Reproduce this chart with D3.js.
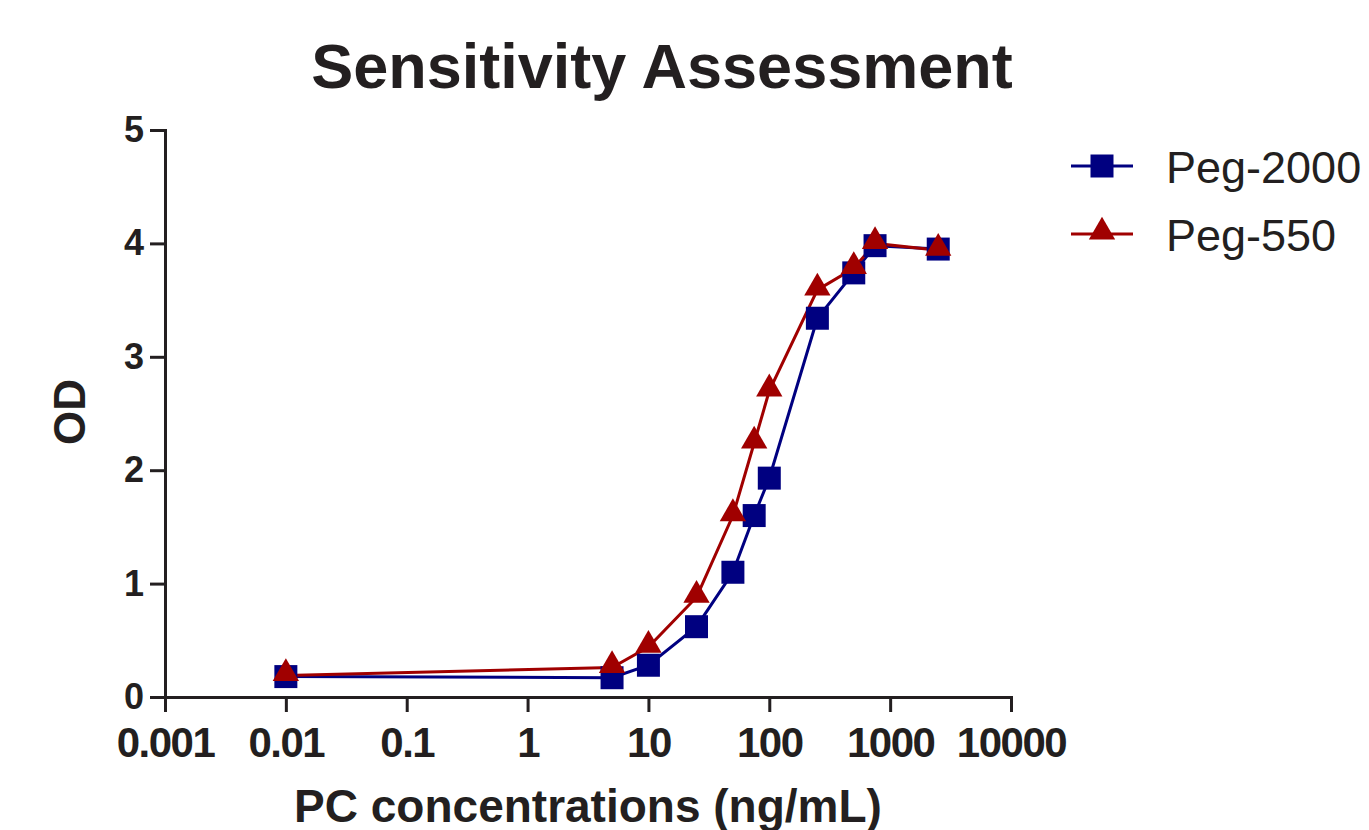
<!DOCTYPE html>
<html><head><meta charset="utf-8">
<script src="https://cdn.jsdelivr.net/npm/d3@7"></script>
<style>body{margin:0;background:#fff}</style>
</head><body><svg id="c" width="1369" height="830"></svg>
<script>
const concentrations = [0.01, 5, 10, 25, 50, 75, 100, 250, 500, 750, 2500];
const peg2000 = [0.18, 0.17, 0.28, 0.62, 1.10, 1.60, 1.93, 3.34, 3.74, 3.98, 3.95];
const peg550  = [0.19, 0.26, 0.44, 0.88, 1.60, 2.24, 2.70, 3.59, 3.78, 4.00, 3.94];
const xTicks = [0.001, 0.01, 0.1, 1, 10, 100, 1000, 10000];
const xTickLabels = ["0.001", "0.01", "0.1", "1", "10", "100", "1000", "10000"];
const yTicks = [0, 1, 2, 3, 4, 5];
const seriesNames = ["Peg-2000", "Peg-550"];
const seriesColors = ["#000080", "#a00000"];

const ink = "#231f20";
const font = "Liberation Sans, Arial, Helvetica, sans-serif";
const svg = d3.select("#c");
const x = d3.scaleLog().domain([0.001, 10000]).range([165, 1011]);
const y = d3.scaleLinear().domain([0, 5]).range([697, 130]);

svg.append("text").attr("x", 662).attr("y", 88).attr("text-anchor", "middle")
  .attr("font-family", font).attr("font-weight", "bold")
  .attr("font-size", 63).attr("fill", ink).text("Sensitivity Assessment");

const xAxis = svg.append("g").attr("transform", "translate(0,697)")
  .call(d3.axisBottom(x).tickValues(xTicks).tickFormat((d, i) => xTickLabels[i]).tickSizeOuter(0).tickSize(15).tickPadding(15));
xAxis.select(".domain").attr("stroke", ink).attr("stroke-width", 3);
xAxis.selectAll(".tick line").attr("stroke", ink).attr("stroke-width", 3);
xAxis.selectAll(".tick text").attr("fill", ink).attr("font-family", font)
  .attr("font-weight", "bold").attr("font-size", 42).attr("letter-spacing", "-1.5px");

const yAxis = svg.append("g").attr("transform", "translate(165,0)")
  .call(d3.axisLeft(y).tickValues(yTicks).tickFormat(d3.format("d")).tickSizeOuter(0).tickSize(15).tickPadding(6));
yAxis.select(".domain").attr("stroke", ink).attr("stroke-width", 3);
yAxis.selectAll(".tick line").attr("stroke", ink).attr("stroke-width", 3);
yAxis.selectAll(".tick text").attr("fill", ink).attr("font-family", font)
  .attr("font-weight", "bold").attr("font-size", 36);

svg.append("text").attr("x", 588).attr("y", 822).attr("text-anchor", "middle")
  .attr("font-family", font).attr("font-weight", "bold")
  .attr("font-size", 46).attr("fill", ink).text("PC concentrations (ng/mL)");

svg.append("text").attr("transform", "translate(85,412) rotate(-90)").attr("text-anchor", "middle")
  .attr("font-family", font).attr("font-weight", "bold")
  .attr("font-size", 44).attr("fill", ink).text("OD");

const data = [peg2000, peg550];
const line = d3.line().x((d, i) => x(concentrations[i])).y(d => y(d));
const sq = d3.symbol().type(d3.symbolSquare).size(23 * 23);
const tri = d3.symbol().type(d3.symbolTriangle).size(300);
const symbols = [sq, tri];

data.forEach((vals, s) => {
  svg.append("path").datum(vals).attr("d", line).attr("fill", "none")
    .attr("stroke", seriesColors[s]).attr("stroke-width", 3);
});
data.forEach((vals, s) => {
  svg.selectAll(null).data(vals).enter().append("path")
    .attr("d", symbols[s])
    .attr("transform", (d, i) => `translate(${x(concentrations[i])},${y(d) + (s === 1 ? -2 : 0)})`)
    .attr("fill", seriesColors[s]);
});

const leg = svg.append("g");
seriesNames.forEach((n, s) => {
  const ly = 166 + s * 68;
  leg.append("line").attr("x1", 1071).attr("x2", 1133).attr("y1", ly).attr("y2", ly)
    .attr("stroke", seriesColors[s]).attr("stroke-width", 3);
  leg.append("path").attr("d", symbols[s]).attr("transform", `translate(1102,${ly + (s === 1 ? -2 : 0)})`).attr("fill", seriesColors[s]);
  leg.append("text").attr("x", 1166).attr("y", ly + 17).attr("font-family", font)
    .attr("font-size", 45).attr("fill", ink).text(n);
});
</script></body></html>
